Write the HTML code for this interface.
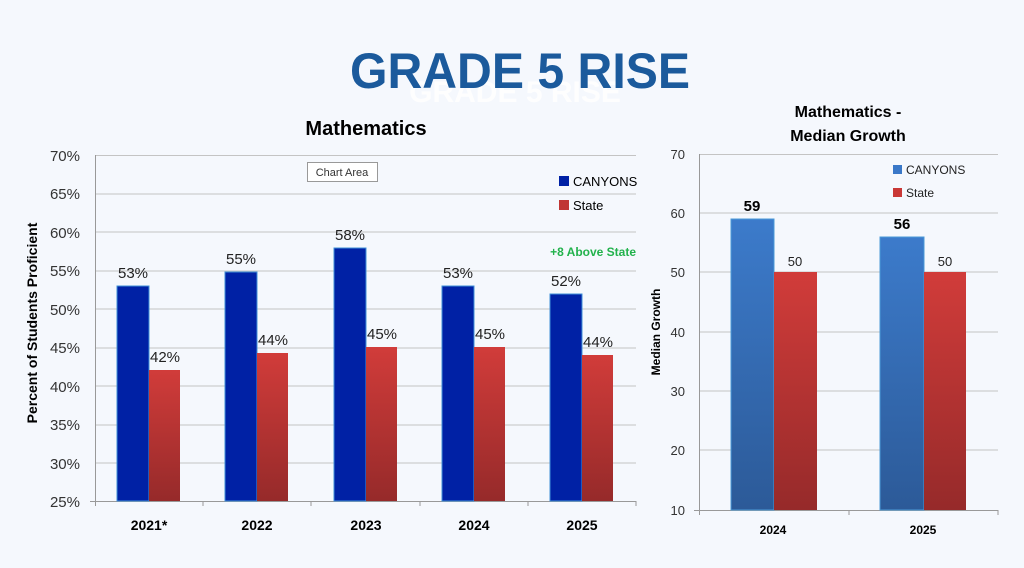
<!DOCTYPE html>
<html><head><meta charset="utf-8"><style>
body{margin:0;background:#f5f8fd;}
svg{display:block;font-family:"Liberation Sans",sans-serif;}
</style></head><body>
<svg width="1024" height="568" viewBox="0 0 1024 568" xmlns="http://www.w3.org/2000/svg">
<defs>
<linearGradient id="rg" x1="0" y1="0" x2="0" y2="1"><stop offset="0" stop-color="#d13c3a"/><stop offset="1" stop-color="#962a2a"/></linearGradient>
<linearGradient id="bg" x1="0" y1="0" x2="0" y2="1"><stop offset="0" stop-color="#3c7bcb"/><stop offset="1" stop-color="#2c5a98"/></linearGradient>
</defs>
<rect width="1024" height="568" fill="#f5f8fd"/>
<text x="515" y="102" font-size="30" fill="#ffffff" font-weight="bold" text-anchor="middle" opacity="0.9">GRADE 5 RISE</text>
<text x="520" y="88" font-size="50" fill="#1b5a9c" font-weight="bold" text-anchor="middle" textLength="340" lengthAdjust="spacingAndGlyphs">GRADE 5 RISE</text>
<text x="366" y="135" font-size="20" font-weight="bold" text-anchor="middle">Mathematics</text>
<!-- left grid -->
<g stroke="#c4c4c4" stroke-width="1">
<line x1="95" x2="636" y1="155.5" y2="155.5"/><line x1="95" x2="636" y1="194" y2="194"/><line x1="95" x2="636" y1="232" y2="232"/><line x1="95" x2="636" y1="271" y2="271"/><line x1="95" x2="636" y1="309" y2="309"/><line x1="95" x2="636" y1="348" y2="348"/><line x1="95" x2="636" y1="386" y2="386"/><line x1="95" x2="636" y1="425" y2="425"/><line x1="95" x2="636" y1="463" y2="463"/>
</g>
<g stroke="#999" stroke-width="1">
<line x1="95.5" x2="95.5" y1="155" y2="506"/><line x1="90" x2="636" y1="501.5" y2="501.5"/>
<line x1="203" x2="203" y1="501" y2="506"/><line x1="311" x2="311" y1="501" y2="506"/><line x1="420" x2="420" y1="501" y2="506"/><line x1="528" x2="528" y1="501" y2="506"/><line x1="636" x2="636" y1="501" y2="506"/>
</g>
<g font-size="15" fill="#333" text-anchor="end">
<text x="80" y="161">70%</text><text x="80" y="199">65%</text><text x="80" y="238">60%</text><text x="80" y="276">55%</text><text x="80" y="315">50%</text><text x="80" y="353">45%</text><text x="80" y="392">40%</text><text x="80" y="430">35%</text><text x="80" y="469">30%</text><text x="80" y="507">25%</text>
</g>
<text transform="translate(37,323) rotate(-90)" font-size="14" font-weight="bold" text-anchor="middle">Percent of Students Proficient</text>
<g fill="#0021a5" stroke="#3f8fd8" stroke-width="1">
<rect x="117" y="286" width="32" height="215"/><rect x="225" y="272" width="32" height="229"/><rect x="334" y="248" width="32" height="253"/><rect x="442" y="286" width="32" height="215"/><rect x="550" y="294" width="32" height="207"/>
</g>
<g fill="url(#rg)">
<rect x="149" y="370" width="31" height="131"/><rect x="257" y="353" width="31" height="148"/><rect x="366" y="347" width="31" height="154"/><rect x="474" y="347" width="31" height="154"/><rect x="582" y="355" width="31" height="146"/>
</g>
<g font-size="15" fill="#222" text-anchor="middle">
<text x="133" y="278">53%</text><text x="241" y="264">55%</text><text x="350" y="240">58%</text><text x="458" y="278">53%</text><text x="566" y="286">52%</text>
<text x="165" y="362">42%</text><text x="273" y="345">44%</text><text x="382" y="339">45%</text><text x="490" y="339">45%</text><text x="598" y="347">44%</text>
</g>
<g font-size="14" font-weight="bold" text-anchor="middle">
<text x="149" y="530">2021*</text><text x="257" y="530">2022</text><text x="366" y="530">2023</text><text x="474" y="530">2024</text><text x="582" y="530">2025</text>
</g>
<rect x="307.5" y="162.5" width="70" height="19" fill="#fff" stroke="#999"/>
<text x="342" y="176" font-size="11" fill="#333" text-anchor="middle">Chart Area</text>
<rect x="559" y="176" width="10" height="10" fill="#0021a5"/><text x="573" y="186" font-size="13">CANYONS</text>
<rect x="559" y="200" width="10" height="10" fill="#c03634"/><text x="573" y="210" font-size="13">State</text>
<text x="636" y="256" font-size="12" font-weight="bold" fill="#22b24c" text-anchor="end">+8 Above State</text>
<!-- right chart -->
<text x="848" y="117" font-size="16" font-weight="bold" text-anchor="middle">Mathematics -</text>
<text x="848" y="141" font-size="16" font-weight="bold" text-anchor="middle">Median Growth</text>
<g stroke="#c4c4c4"><line x1="699" x2="998" y1="154.5" y2="154.5"/><line x1="699" x2="998" y1="213" y2="213"/><line x1="699" x2="998" y1="272" y2="272"/><line x1="699" x2="998" y1="332" y2="332"/><line x1="699" x2="998" y1="391" y2="391"/><line x1="699" x2="998" y1="450" y2="450"/></g>
<g stroke="#999"><line x1="699.5" x2="699.5" y1="154" y2="515"/><line x1="694" x2="998" y1="510.5" y2="510.5"/><line x1="849" x2="849" y1="510" y2="515"/><line x1="998" x2="998" y1="510" y2="515"/></g>
<g font-size="13" fill="#333" text-anchor="end"><text x="685" y="159">70</text><text x="685" y="218">60</text><text x="685" y="277">50</text><text x="685" y="337">40</text><text x="685" y="396">30</text><text x="685" y="455">20</text><text x="685" y="515">10</text></g>
<text transform="translate(660,332) rotate(-90)" font-size="12" font-weight="bold" text-anchor="middle">Median Growth</text>
<rect x="731" y="219" width="43" height="291" fill="url(#bg)" stroke="#4a9ad8"/><rect x="880" y="237" width="44" height="273" fill="url(#bg)" stroke="#4a9ad8"/>
<rect x="774" y="272" width="43" height="238" fill="url(#rg)"/><rect x="924" y="272" width="42" height="238" fill="url(#rg)"/>
<text x="752" y="211" font-size="15" font-weight="bold" text-anchor="middle">59</text><text x="902" y="229" font-size="15" font-weight="bold" text-anchor="middle">56</text>
<text x="795" y="266" font-size="13" fill="#222" text-anchor="middle">50</text><text x="945" y="266" font-size="13" fill="#222" text-anchor="middle">50</text>
<text x="773" y="534" font-size="12" font-weight="bold" text-anchor="middle">2024</text><text x="923" y="534" font-size="12" font-weight="bold" text-anchor="middle">2025</text>
<rect x="893" y="165" width="9" height="9" fill="#3a78c8"/><text x="906" y="174" font-size="12" fill="#222">CANYONS</text>
<rect x="893" y="188" width="9" height="9" fill="#c93836"/><text x="906" y="197" font-size="12" fill="#222">State</text>
</svg>
</body></html>
